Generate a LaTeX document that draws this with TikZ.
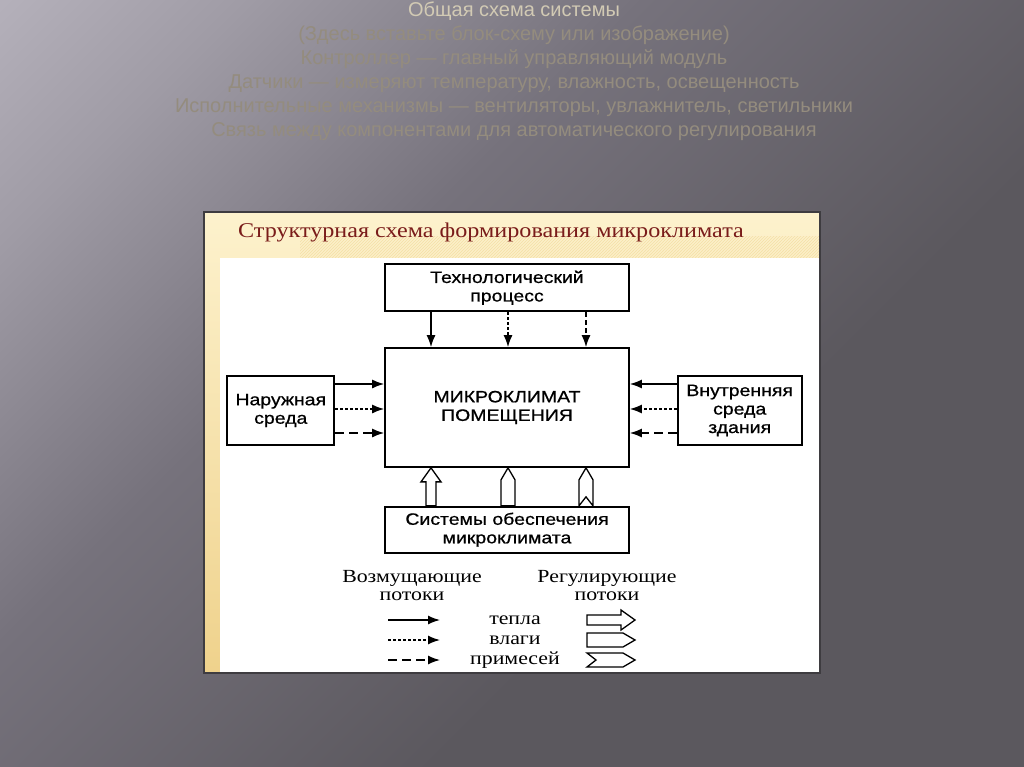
\documentclass[tikz,border=0pt]{standalone}
\usepackage{fontspec}
\setmainfont{Liberation Serif}
\newfontfamily\slidefont{Liberation Sans}
\newfontfamily\boxfont[FakeStretch=1.18, FakeBold=0.8]{Liberation Sans}
\newfontfamily\titlefont[FakeStretch=1.15]{Liberation Serif}
\newfontfamily\legfont[FakeStretch=1.18]{Liberation Serif}
\usepackage{tikz}
\usetikzlibrary{arrows.meta, positioning, calc, patterns}

\definecolor{slidebg}{HTML}{5B585E}
\definecolor{slidemid}{HTML}{76727C}
\definecolor{slidelight}{HTML}{A09CA6}
\definecolor{slideglow}{HTML}{BEBAC4}
\definecolor{headtext}{HTML}{948C7E}
\definecolor{headbright}{HTML}{D2CAB4}
\definecolor{creamtop}{HTML}{FDF2CD}
\definecolor{creambot}{HTML}{EFD28C}
\definecolor{creamline}{HTML}{F4E0A6}
\definecolor{titlered}{HTML}{7A1C1A}
\definecolor{panelborder}{HTML}{3E3C40}

\pgfdeclarehorizontalshading{slideshade}{100bp}{color(0bp)=(slideglow);
  color(10bp)=(slideglow); color(24bp)=(slidelight); color(40bp)=(slidemid);
  color(62bp)=(slidebg); color(100bp)=(slidebg)}

\tikzset{
  slidetext/.style={text=headtext, align=center, inner sep=0pt,
    font=\slidefont\fontsize{20}{24}\selectfont},
  blockbox/.style={draw=black, line width=1.7pt, fill=white, align=center,
    inner sep=0pt, font=\boxfont\fontsize{16.5}{18.5}\selectfont},
  legtext/.style={align=center, inner sep=0pt,
    font=\legfont\fontsize{18.5}{18}\selectfont},
  heatflow/.style={-{Latex[length=12pt,width=9pt]}, line width=1.4pt},
  moistflow/.style={heatflow, dash pattern=on 2.5pt off 2.5pt},
  dirtflow/.style={heatflow, dash pattern=on 9pt off 5pt},
  regline/.style={draw=black, line width=1.3pt, fill=white, line join=miter},
  pics/heatreg/.style={code={
    \draw[regline] (0,-5) -- ({#1-14},-5) -- ({#1-14},-10) -- (#1,0)
      -- ({#1-14},10) -- ({#1-14},5) -- (0,5) -- cycle;}},
  pics/moistreg/.style={code={
    \draw[regline] (0,-7) -- ({#1-12},-7) -- (#1,0) -- ({#1-12},7)
      -- (0,7) -- cycle;}},
  pics/dirtreg/.style={code={
    \draw[regline] (0,-7) -- ({#1-12},-7) -- (#1,0) -- ({#1-12},7)
      -- (0,7) -- (9,0) -- cycle;}},
}

\begin{document}
\begin{tikzpicture}[x=1pt, y=-1pt]
\useasboundingbox (0,0) rectangle (1024,767);

% slide background
\shade[shading=slideshade, shading angle=-45] (0,0) rectangle (1024,767);

\node[slidetext] (heading) at (514,71) {{\color{headbright}Общая схема системы}\\
  (Здесь вставьте блок-схему или изображение)\\
  Контроллер — главный управляющий модуль\\
  Датчики — измеряют температуру, влажность, освещенность\\
  Исполнительные механизмы — вентиляторы, увлажнитель, светильники\\
  Связь между компонентами для автоматического регулирования};

% picture panel
\shade[top color=creamtop, bottom color=creambot] (204,212) rectangle (820,673);
\fill[pattern=north east lines, pattern color=creamline] (300,236) rectangle (820,258);
\fill[white] (220,258) rectangle (820,673);
\draw[panelborder, line width=1.5pt] (204,212) rectangle (820,673);

\node[font=\titlefont\fontsize{21}{21}\selectfont, text=titlered, inner sep=0pt]
  (title) at (491,232) {Структурная схема формирования микроклимата};

% blocks
\node[blockbox, minimum width=244pt, minimum height=119pt] (main) at (507,407.5)
  {МИКРОКЛИМАТ\\ПОМЕЩЕНИЯ};
\node[blockbox, minimum width=244pt, minimum height=47pt, above=35pt of main] (tech)
  {Технологический\\процесс};
\node[blockbox, minimum width=244pt, minimum height=46pt, below=38pt of main] (sys)
  {Системы обеспечения\\микроклимата};
\node[blockbox, minimum width=107pt, minimum height=69pt, left=49pt of main, yshift=-3pt] (outer)
  {Наружная\\среда};
\node[blockbox, minimum width=124pt, minimum height=69pt, right=47pt of main, yshift=-3pt] (inner)
  {Внутренняя\\среда\\здания};

% disturbing flows
\coordinate (r1) at (0,384);
\coordinate (r2) at (0,409);
\coordinate (r3) at (0,433);
\coordinate (c1) at (431,0);
\coordinate (c2) at (508,0);
\coordinate (c3) at (586,0);

\draw[heatflow] (outer.east |- r1) -- (main.west |- r1);
\draw[moistflow] (outer.east |- r2) -- (main.west |- r2);
\draw[dirtflow] (outer.east |- r3) -- (main.west |- r3);
\draw[heatflow] (inner.west |- r1) -- (main.east |- r1);
\draw[moistflow] (inner.west |- r2) -- (main.east |- r2);
\draw[dirtflow] (inner.west |- r3) -- (main.east |- r3);
\draw[heatflow] (tech.south -| c1) -- (main.north -| c1);
\draw[moistflow] (tech.south -| c2) -- (main.north -| c2);
\draw[dirtflow, dash pattern=on 5pt off 3pt] (tech.south -| c3) -- (main.north -| c3);

% regulating flows
\pic[rotate=90] at (sys.north -| c1) {heatreg=38};
\pic[rotate=90] at (sys.north -| c2) {moistreg=38};
\pic[rotate=90] at (sys.north -| c3) {dirtreg=38};

% legend
\node[legtext] (distflows) at (412,586) {Возмущающие\\потоки};
\node[legtext] (regflows) at (607,586) {Регулирующие\\потоки};
\node[legtext] (lheat) at (515,620) {тепла};
\node[legtext] (lmoist) at (515,640) {влаги};
\node[legtext] (ldirt) at (515,660) {примесей};

\coordinate (s1) at (388,620);
\coordinate (s2) at (388,640);
\coordinate (s3) at (388,660);
\draw[heatflow] (s1) -- ++(52,0);
\draw[moistflow] (s2) -- ++(52,0);
\draw[dirtflow] (s3) -- ++(52,0);
\pic at (587,620) {heatreg=48};
\pic at (587,640) {moistreg=48};
\pic at (587,660) {dirtreg=48};
\end{tikzpicture}
\end{document}
